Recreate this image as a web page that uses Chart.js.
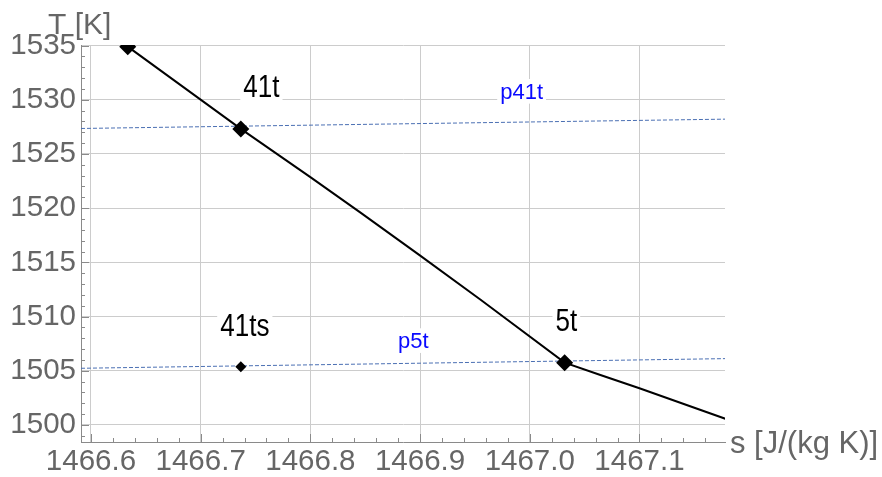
<!DOCTYPE html>
<html>
<head>
<meta charset="utf-8">
<script src="https://cdn.jsdelivr.net/npm/chart.js@4.4.1/dist/chart.umd.min.js"></script>
<style>
  html, body { margin: 0; padding: 0; background: #fff; }
  #wrap { width: 882px; height: 477px; }
</style>
</head>
<body>
<div id="wrap"><canvas id="c" width="882" height="477"></canvas></div>
<script>
// T-s diagram of the turbine expansion 41t -> 5t with the two isobars

// expansion line (entropy s in J/(kg K), temperature T in K)
const curveS = [1466.6335, 1466.7366, 1466.80, 1466.8454, 1466.8995, 1466.9549, 1467.0318, 1467.0644, 1467.10, 1467.179];
const curveT = [1534.90, 1527.31, 1522.86, 1519.61, 1515.67, 1511.57, 1505.75, 1504.61, 1503.39, 1500.55];

// state points on the expansion line
const stateNames = ['', '41t', '5t'];
const stateS = [1466.6335, 1466.7366, 1467.0318];
const stateT = [1534.90, 1527.31, 1505.75];

// isentropic end point
const isenName = '41ts';
const isenS = [1466.7366];
const isenT = [1505.37];

// isobars
const isobarNames = ['p41t', 'p5t'];
const isobarS = [1466.5909, 1467.178];
const p41tT = [1527.35, 1528.21];
const p5tT = [1505.23, 1506.12];

// axes
const sTicks = [1466.6, 1466.7, 1466.8, 1466.9, 1467.0, 1467.1];
const TTicks = [1500, 1505, 1510, 1515, 1520, 1525, 1530, 1535];
const sRange = [1466.5909, 1467.178];
const TRange = [1498.43, 1535.05];
const sTitle = 's [J/(kg K)]';
const TTitle = 'T [K]';

const FONT = '"Liberation Sans", Arial, Helvetica, sans-serif';
const AXIS_GREY = '#666666';
const AXIS_LINE = '#8a8a8a';
const GRID = '#cccccc';
const ISOBAR = '#4a6fb3';

const pts = (xs, ys) => xs.map((x, i) => ({ x: x, y: ys[i] }));

// white-boxed text label, optionally condensed horizontally
function tag(ctx, text, cx, baseline, size, color, sx) {
  ctx.save();
  ctx.font = size + 'px ' + FONT;
  const w = ctx.measureText(text).width * sx;
  ctx.fillStyle = '#ffffff';
  ctx.fillRect(cx - w / 2 - 3, baseline - 0.9 * size, w + 6, 1.12 * size);
  ctx.translate(cx, baseline);
  ctx.scale(sx, 1);
  ctx.fillStyle = color;
  ctx.textAlign = 'center';
  ctx.textBaseline = 'alphabetic';
  ctx.fillText(text, 0, 0);
  ctx.restore();
}

const decor = {
  id: 'decor',
  afterDatasetsDraw(chart, args, opts) {
    const ctx = chart.ctx;
    const xs = chart.scales.x, ys = chart.scales.y;
    const a = chart.chartArea;

    // inward tick marks: major + minor
    ctx.save();
    ctx.strokeStyle = AXIS_LINE;
    ctx.lineWidth = 1;
    ctx.beginPath();
    for (let k = Math.ceil(xs.min * 50); k <= Math.floor(xs.max * 50); k++) {
      const px = Math.round(xs.getPixelForValue(k / 50)) + 0.5;
      const len = (k % 5 === 0) ? 8 : 4;
      ctx.moveTo(px, a.bottom);
      ctx.lineTo(px, a.bottom - len);
    }
    for (let k = Math.ceil(ys.min); k <= Math.floor(ys.max); k++) {
      const py = Math.round(ys.getPixelForValue(k)) + 0.5;
      const len = (k % 5 === 0) ? 8 : 4;
      ctx.moveTo(a.left, py);
      ctx.lineTo(a.left + len, py);
    }
    ctx.stroke();
    ctx.restore();

    // axis titles
    ctx.save();
    ctx.fillStyle = AXIS_GREY;
    ctx.textBaseline = 'alphabetic';
    ctx.textAlign = 'left';
    ctx.font = '30px ' + FONT;
    ctx.fillText(TTitle, a.left - 33, a.top - 11.5);
    ctx.font = '31px ' + FONT;
    ctx.fillText(sTitle, a.right + 5, a.bottom + 10.5);
    ctx.restore();

    // state point labels
    opts.stateOffsets.forEach((off, i) => {
      if (!stateNames[i]) return;
      const px = xs.getPixelForValue(stateS[i]);
      const py = ys.getPixelForValue(stateT[i]);
      tag(ctx, stateNames[i], px + off[0], py + off[1], 31, '#000000', 0.84);
    });
    {
      const px = xs.getPixelForValue(isenS[0]);
      const py = ys.getPixelForValue(isenT[0]);
      tag(ctx, isenName, px + opts.isenOffset[0], py + opts.isenOffset[1], 31, '#000000', 0.84);
    }

    // isobar labels, placed along their lines
    const isoT = [p41tT, p5tT];
    opts.isobarPlaces.forEach((pl, i) => {
      const f = (pl.s - isobarS[0]) / (isobarS[1] - isobarS[0]);
      const t = isoT[i][0] + f * (isoT[i][1] - isoT[i][0]);
      const px = xs.getPixelForValue(pl.s);
      const py = ys.getPixelForValue(t);
      tag(ctx, isobarNames[i], px, py + pl.dy, 22, '#0a0aff', 1);
    });
  }
};

new Chart(document.getElementById('c'), {
  type: 'scatter',
  data: {
    datasets: [
      {
        label: 'states',
        data: pts(stateS, stateT),
        showLine: false,
        pointStyle: 'rectRot',
        pointRadius: 8.5,
        pointBackgroundColor: '#000',
        pointBorderColor: '#000',
        pointBorderWidth: 0,
        clip: 0
      },
      {
        label: isenName,
        data: pts(isenS, isenT),
        showLine: false,
        pointStyle: 'rectRot',
        pointRadius: 5.5,
        pointBackgroundColor: '#000',
        pointBorderColor: '#000',
        pointBorderWidth: 0,
        clip: 0
      },
      {
        label: 'expansion',
        data: pts(curveS, curveT),
        showLine: true,
        borderColor: '#000',
        borderWidth: 2,
        pointRadius: 0,
        tension: 0,
        clip: 0
      },
      {
        label: isobarNames[0],
        data: pts(isobarS, p41tT),
        showLine: true,
        borderColor: ISOBAR,
        borderWidth: 1,
        borderDash: [4, 2],
        pointRadius: 0,
        clip: 0
      },
      {
        label: isobarNames[1],
        data: pts(isobarS, p5tT),
        showLine: true,
        borderColor: ISOBAR,
        borderWidth: 1,
        borderDash: [4, 2],
        pointRadius: 0,
        clip: 0
      }
    ]
  },
  options: {
    responsive: false,
    animation: false,
    events: [],
    layout: { padding: { top: 45, right: 157, left: 0, bottom: 0 } },
    scales: {
      x: {
        type: 'linear',
        position: 'bottom',
        min: sRange[0],
        max: sRange[1],
        afterBuildTicks: (s) => { s.ticks = sTicks.map(v => ({ value: v })); },
        afterFit: (s) => { s.height = 35; },
        ticks: {
          color: AXIS_GREY,
          font: { family: FONT, size: 29.5 },
          padding: 2,
          maxRotation: 0,
          autoSkip: false,
          callback: (v) => Number(v).toFixed(1)
        },
        grid: { color: GRID, lineWidth: 1, drawTicks: false },
        border: { color: AXIS_LINE, width: 1 }
      },
      y: {
        type: 'linear',
        position: 'left',
        min: TRange[0],
        max: TRange[1],
        afterBuildTicks: (s) => { s.ticks = TTicks.map(v => ({ value: v })); },
        afterFit: (s) => { s.width = 81; },
        ticks: {
          color: AXIS_GREY,
          font: { family: FONT, size: 29.5 },
          padding: 5,
          autoSkip: false,
          callback: (v) => String(Math.round(v))
        },
        grid: { color: GRID, lineWidth: 1, drawTicks: false },
        border: { color: AXIS_LINE, width: 1 }
      }
    },
    plugins: {
      legend: { display: false },
      tooltip: { enabled: false },
      decor: {
        stateOffsets: [null, [20.6, -32.3], [1.7, -32]],
        isenOffset: [4, -30.7],
        isobarPlaces: [{ s: 1466.9926, dy: -23.3 }, { s: 1466.8938, dy: -15.2 }]
      }
    }
  },
  plugins: [decor]
});
</script>
</body>
</html>
